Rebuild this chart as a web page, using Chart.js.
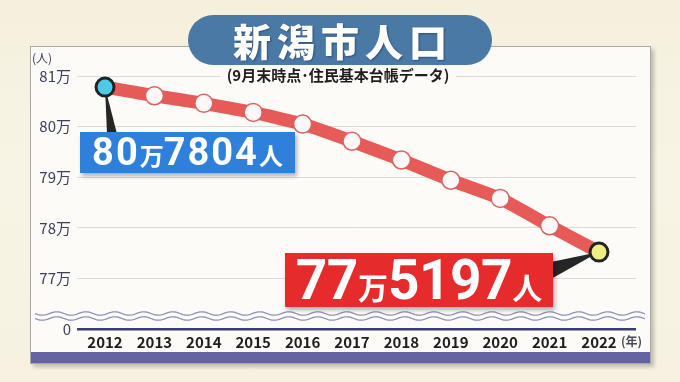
<!DOCTYPE html>
<html><head><meta charset="utf-8">
<script src="https://cdn.jsdelivr.net/npm/chart.js@4/dist/chart.umd.min.js"></script>
<style>
html,body{margin:0;padding:0;}
body{width:680px;height:382px;overflow:hidden;position:relative;background:linear-gradient(180deg,#f5f0dd 0%,#f8f4e5 45%,#f6f1e0 100%);font-family:"Noto Sans CJK JP",sans-serif;}
#panel{position:absolute;left:30px;top:46px;width:619px;height:316px;background:#fcfbf7;border:1px solid #a8a8a8;box-shadow:3px 3px 4px rgba(0,0,0,0.22);}
#band{position:absolute;left:31px;top:352px;width:619px;height:11px;background:#6563a3;}
#wrap{position:absolute;left:0;top:0;width:680px;height:382px;}
#title{position:absolute;left:188px;top:15px;width:304px;height:50px;border-radius:25px;background:#4a79a6;color:#fff;font-weight:900;font-size:38px;line-height:50px;text-align:center;letter-spacing:6px;text-indent:6px;text-shadow:1px 1px 2px rgba(0,0,0,0.35);}
#sub{position:absolute;left:220px;top:65px;width:236px;height:20px;background:#fcfbf7;color:#1e1e1e;font-weight:700;font-size:15px;line-height:20px;text-align:center;white-space:nowrap;}
#yunit{position:absolute;left:32px;top:49px;font-size:12px;color:#3c4058;}
#xunit{position:absolute;left:621px;top:332px;font-size:12px;font-weight:700;color:#4a4a5a;}
.call{position:absolute;color:#fff;text-align:center;white-space:nowrap;box-shadow:2px 3px 4px rgba(0,0,0,0.3);font-family:Roboto,"Noto Sans CJK JP",sans-serif;font-weight:700;}
#blue{left:80px;top:132px;width:215px;height:41px;background:#2e80da;line-height:41px;}
#blue .n{font-size:38px;letter-spacing:2px;}
#blue .u{font-size:24px;font-family:"Noto Sans CJK JP";}
#red{left:285px;top:253px;width:268px;height:54px;background:#e52b2b;line-height:54px;}
#red .n{font-size:55px;letter-spacing:-0.5px;}
#red .u{font-size:30px;font-family:"Noto Sans CJK JP";}
</style></head>
<body>
<div id="panel"></div>
<div id="band"></div>
<div id="wrap"><canvas id="c" width="680" height="382"></canvas></div>
<div id="title">新潟市人口</div>
<div id="sub">(9月末時点･住民基本台帳データ)</div>
<div id="yunit">(人)</div>
<div id="xunit">(年)</div>
<div id="blue" class="call"></div>
<div id="red" class="call"></div>
<script>
const years = [2012, 2013, 2014, 2015, 2016, 2017, 2018, 2019, 2020, 2021, 2022];
const population = [807804, 806100, 804600, 802800, 800500, 797100, 793400, 789400, 785800, 780400, 775197];
const yTickValues = [760000, 770000, 780000, 790000, 800000, 810000];
const yTickLabels = ['0', '77万', '78万', '79万', '80万', '81万'];

function fmt(v){
  return '<span class="n">' + Math.floor(v/10000) + '</span><span class="u">万</span><span class="n">' + (v % 10000) + '</span><span class="u">人</span>';
}
document.getElementById('blue').innerHTML = fmt(population[0]);
document.getElementById('red').innerHTML = fmt(population[population.length-1]);

const last = population.length - 1;
const bg = population.map((v,i)=> i===0 ? '#4ccbe6' : (i===last ? '#eeee86' : '#fdf7f7'));
const bc = population.map((v,i)=> (i===0||i===last) ? '#1f2424' : '#d56464');
const bw = population.map((v,i)=> (i===0||i===last) ? 3 : 1.5);

const extras = {
  id:'extras',
  beforeDatasetsDraw(chart){
    const ctx = chart.ctx;
    const pts = chart.getDatasetMeta(0).data;
    const a = pts[0], b = pts[last];
    ctx.save();
    ctx.fillStyle = '#262626';
    ctx.beginPath();
    ctx.moveTo(a.x, a.y);
    ctx.lineTo(a.x+2, 134);
    ctx.lineTo(a.x+12, 134);
    ctx.closePath();
    ctx.fill();
    ctx.beginPath();
    ctx.moveTo(b.x, b.y);
    ctx.lineTo(551, 262);
    ctx.lineTo(551, 279);
    ctx.closePath();
    ctx.fill();
    // wavy break lines
    ctx.strokeStyle = '#8e92ba';
    ctx.lineWidth = 1.3;
    [313.5, 318.5].forEach(y0=>{
      ctx.beginPath();
      for(let x=35; x<=645; x+=1){
        const y = y0 + 1.7*Math.sin((x-35)/29*2*Math.PI);
        if(x===35) ctx.moveTo(x,y); else ctx.lineTo(x,y);
      }
      ctx.stroke();
    });
    ctx.restore();
  }
};

new Chart(document.getElementById('c'), {
  type:'line',
  data:{
    datasets:[{
      data: years.map((y,i)=>({x:y, y:population[i]})),
      borderColor:'#e65a58',
      borderWidth:13,
      tension:0.1,
      pointRadius:9,
      pointHoverRadius:9,
      pointBackgroundColor:bg,
      pointBorderColor:bc,
      pointBorderWidth:bw,
      clip:false
    }]
  },
  options:{
    responsive:false,
    animation:false,
    events:[],
    layout:{padding:{top:76,left:30,right:44,bottom:23}},
    plugins:{legend:{display:false},tooltip:{enabled:false}},
    scales:{
      x:{
        type:'linear',
        min:2011.433, max:2022.749,
        afterBuildTicks(s){ s.ticks = years.map(v=>({value:v})); },
        afterFit(s){ s.height = 30; },
        grid:{display:false, drawTicks:false},
        border:{display:false},
        ticks:{padding:4, autoSkip:false, maxRotation:0, color:'#1e1e1e', font:{family:'"Noto Sans CJK JP", sans-serif', size:15, weight:'bold'}, callback:(v)=>String(v)}
      },
      y:{
        min:760000, max:810000,
        afterBuildTicks(s){ s.ticks = yTickValues.map(v=>({value:v})); },
        afterFit(s){ s.width = 47; },
        grid:{drawTicks:false,
          color:(c)=> (c.tick && c.tick.value===760000) ? '#3b3d72' : '#dcdad5',
          lineWidth:(c)=> (c.tick && c.tick.value===760000) ? 2.5 : 1},
        border:{display:false},
        ticks:{padding:6, color:'#3c4058', font:{family:'"Noto Sans CJK JP", sans-serif', size:15},
          callback:(v)=>{ const i = yTickValues.indexOf(v); return i>=0 ? yTickLabels[i] : ''; }}
      }
    }
  },
  plugins:[extras]
});
</script>
</body></html>
